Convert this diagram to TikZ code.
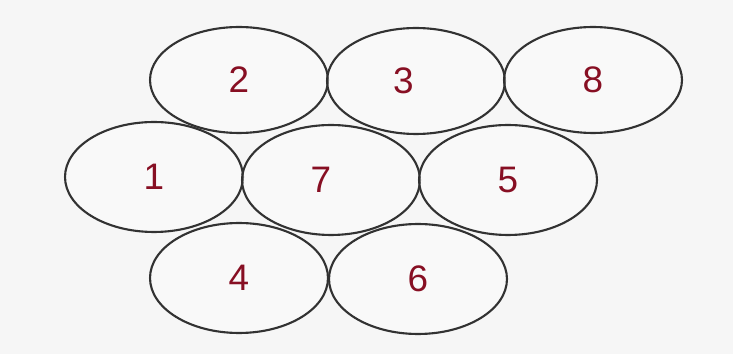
\documentclass[tikz,border=0pt]{standalone}
\usepackage{fontspec}
\setmainfont{Liberation Sans}
\usetikzlibrary{shapes.geometric}
\definecolor{paper}{RGB}{246,246,246}
\definecolor{pencil}{RGB}{50,50,50}
\definecolor{digit}{RGB}{135,15,35}
\tikzset{
  every picture/.style={line width=1.2pt},
  cell/.style={ellipse, draw=pencil, fill=white, fill opacity=0.35, text opacity=1,
    minimum width=3.56cm, minimum height=2.12cm, inner sep=0pt,
    text=digit, font=\fontsize{21}{21}\selectfont},
  tall/.style={cell, minimum height=2.2cm},
}

\begin{document}
\begin{tikzpicture}[x=0.02cm, y=-0.02cm]
  \fill[paper] (0,0) rectangle (733,354);
  \useasboundingbox (0,0) rectangle (733,354);
  % top row
  \node[cell] (e2) at (239,80) {2};
  \node[cell] (e3) at (416,81) {\hspace*{-0.5cm}3};
  \node[cell] (e8) at (593,80) {8};
  % middle row
  \node[tall] (e1) at (154,177) {1};
  \node[tall] (e7) at (331,180) {\hspace*{-0.4cm}7};
  \node[tall] (e5) at (508,180) {5};
  % bottom row
  \node[tall] (e4) at (239,278) {4};
  \node[tall] (e6) at (418,279) {6};
\end{tikzpicture}
\end{document}
